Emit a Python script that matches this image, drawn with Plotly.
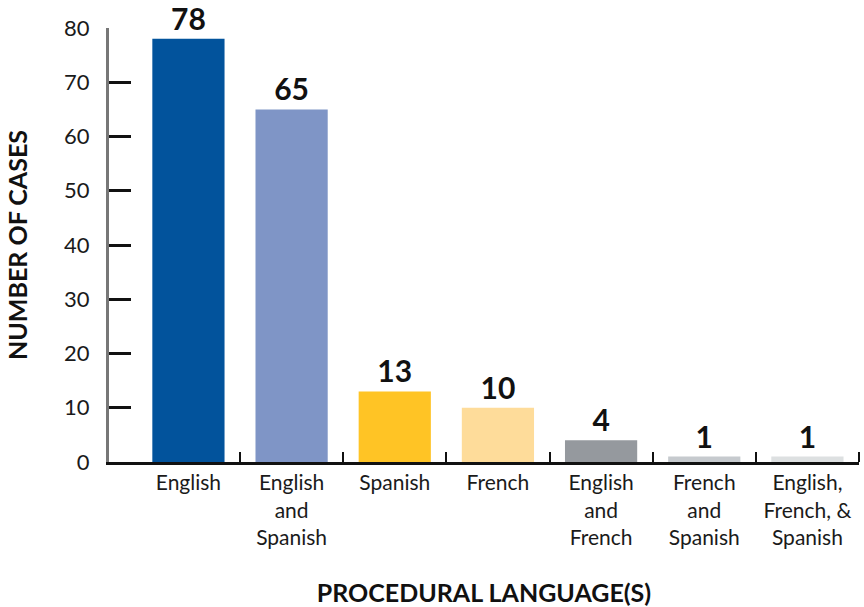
import plotly.graph_objects as go

# Procedural language(s) used in cases
languages = [
    "English",
    "English<br>and<br>Spanish",
    "Spanish",
    "French",
    "English<br>and<br>French",
    "French<br>and<br>Spanish",
    "English,<br>French, &<br>Spanish",
]
cases = [78, 65, 13, 10, 4, 1, 1]
bar_colors = ["#02539C", "#7F95C6", "#FFC425", "#FEDC9A", "#95999E", "#C6CACE", "#DDE0E1"]
y_ticks = [0, 10, 20, 30, 40, 50, 60, 70, 80]

FONT = "Lato, 'Noto Sans', sans-serif"
positions = list(range(len(languages)))

fig = go.Figure(
    go.Bar(
        x=positions,
        y=cases,
        width=0.70,
        marker=dict(color=bar_colors, line=dict(width=0)),
        text=[str(v) for v in cases],
        textposition="outside",
        textfont=dict(family=FONT, size=30, color="#111111", weight="bold"),
        cliponaxis=False,
        hoverinfo="skip",
    )
)

fig.update_layout(
    width=864,
    height=607,
    margin=dict(l=109, r=5, t=28, b=145, autoexpand=False),
    paper_bgcolor="white",
    plot_bgcolor="white",
    showlegend=False,
    font=dict(family=FONT, color="#1a1a1a"),
    xaxis=dict(
        automargin=False,
        range=[-0.77, 6.5],
        tickmode="array",
        tickvals=positions,
        ticktext=languages,
        ticks="",
        tickfont=dict(size=21, color="#1a1a1a"),
        showgrid=False,
        zeroline=False,
        showline=True,
        linecolor="#111111",
        linewidth=3,
        minor=dict(
            tickmode="array",
            tickvals=[p + 0.5 for p in positions],
            ticks="inside",
            ticklen=10,
            tickwidth=2,
            tickcolor="#111111",
            showgrid=False,
        ),
        title=dict(
            text="<b>PROCEDURAL LANGUAGE(S)</b>",
            font=dict(size=25, color="#111111"),
            standoff=40,
        ),
        fixedrange=True,
    ),
    yaxis=dict(
        automargin=False,
        range=[0, 80],
        tickmode="array",
        tickvals=y_ticks,
        ticks="inside",
        ticklen=22,
        tickwidth=3,
        tickcolor="#111111",
        tickfont=dict(size=22, color="#1a1a1a"),
        ticklabelstandoff=12,
        showgrid=False,
        zeroline=False,
        showline=True,
        linecolor="#777777",
        linewidth=3,
        title=dict(
            text="<b>NUMBER OF CASES</b>",
            font=dict(size=25, color="#111111"),
            standoff=30,
        ),
        fixedrange=True,
    ),
)

fig.write_html("out.html")
